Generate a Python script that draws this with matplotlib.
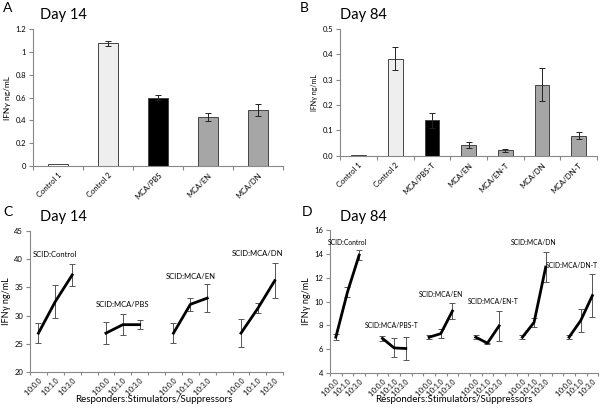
import numpy as np
import matplotlib.pyplot as plt

plt.rcParams['font.family'] = ['Lato', 'DejaVu Sans']

# panel A: day 14 bars
a_labels = ['Control 1', 'Control 2', 'MCA/PBS', 'MCA/EN', 'MCA/DN']
a_values = [0.02, 1.075, 0.60, 0.43, 0.49]
a_errors = [0.0, 0.02, 0.02, 0.035, 0.05]
a_colors = ['white', '#eeeeee', 'black', '#a6a6a6', '#a6a6a6']

# panel B: day 84 bars
b_labels = ['Control 1', 'Control 2', 'MCA/PBS-T', 'MCA/EN', 'MCA/EN-T', 'MCA/DN', 'MCA/DN-T']
b_values = [0.003, 0.382, 0.14, 0.043, 0.022, 0.28, 0.08]
b_errors = [0.0, 0.045, 0.03, 0.012, 0.005, 0.065, 0.015]
b_colors = ['white', '#eeeeee', 'black', '#a6a6a6', '#a6a6a6', '#a6a6a6', '#a6a6a6']

# panels C/D: ratio series
ratios = ['1:0:0.0', '1:0:1.0', '1:0:3.0']

c_groups = ['SCID:Control', 'SCID:MCA/PBS', 'SCID:MCA/EN', 'SCID:MCA/DN']
c_values = [[26.9, 32.5, 37.2], [26.9, 28.4, 28.4], [26.9, 32.0, 33.1], [26.9, 31.3, 36.2]]
c_errors = [[1.8, 3.0, 2.0], [1.9, 1.9, 0.8], [1.8, 1.1, 2.5], [2.5, 0.9, 3.1]]
c_label_pos = [(1, 40.9), (5, 31.9), (9, 37.0), (13, 41.0)]

d_groups = ['SCID:Control', 'SCID:MCA/PBS-T', 'SCID:MCA/EN', 'SCID:MCA/EN-T',
            'SCID:MCA/DN', 'SCID:MCA/DN-T']
d_values = [[7.0, 10.8, 13.9], [6.9, 6.1, 6.05], [7.0, 7.3, 9.2], [7.0, 6.5, 7.95],
            [7.0, 8.25, 12.9], [7.0, 8.4, 10.5]]
d_errors = [[0.25, 0.45, 0.4], [0.2, 0.8, 0.95], [0.15, 0.35, 0.65], [0.15, 0.05, 1.25],
            [0.15, 0.35, 1.3], [0.15, 1.0, 1.8]]
d_label_pos = [(1, 15.0), (4.8, 8.0), (9, 10.6), (13.5, 10.0), (17, 15.0), (20.2, 13.0)]

axis_grey = '#888888'
tick_fs = 5.5


def style_axes(ax):
    for s in ['top', 'right']:
        ax.spines[s].set_visible(False)
    for s in ['left', 'bottom']:
        ax.spines[s].set_color(axis_grey)
        ax.spines[s].set_linewidth(0.8)
    ax.tick_params(axis='y', labelsize=tick_fs, length=3, color=axis_grey, pad=2)


def bar_panel(ax, labels, values, errors, colors):
    x = np.arange(len(labels))
    ax.bar(x, values, width=0.4, color=colors, edgecolor='#444444', linewidth=0.7)
    ax.errorbar(x[1:], values[1:], yerr=errors[1:], fmt='none', ecolor='#222222',
                elinewidth=0.7, capsize=2, capthick=0.7)
    ax.set_xlim(-0.5, len(labels) - 0.5)
    ax.set_xticks(np.arange(len(labels) + 1) - 0.5)
    ax.set_xticklabels([])
    ax.set_xticks(x, minor=True)
    ax.set_xticklabels(labels, minor=True, rotation=45, ha='right', rotation_mode='anchor',
                       fontsize=tick_fs)
    ax.tick_params(axis='x', which='major', length=3, color=axis_grey)
    ax.tick_params(axis='x', which='minor', length=0, pad=4)
    style_axes(ax)


def line_panel(ax, groups, values, errors, label_pos, label_fs):
    n = len(groups) * 4 - 1
    for i in range(len(groups)):
        x = np.arange(3) + 4 * i
        ax.errorbar(x, values[i], yerr=errors[i], color='black', lw=2,
                    ecolor='#555555', elinewidth=0.7, capsize=2, capthick=0.7)
        ax.text(label_pos[i][0], label_pos[i][1], groups[i], fontsize=label_fs,
                ha='center', va='center')
    centers = [4 * i + k for i in range(len(groups)) for k in range(3)]
    ax.set_xlim(-0.5, n - 0.5)
    ax.set_xticks(np.arange(n + 1) - 0.5)
    ax.set_xticklabels([])
    ax.set_xticks(centers, minor=True)
    ax.set_xticklabels(ratios * len(groups), minor=True, rotation=45, ha='right',
                       rotation_mode='anchor', fontsize=5)
    ax.tick_params(axis='x', which='major', length=2.5, color=axis_grey)
    ax.tick_params(axis='x', which='minor', length=0, pad=3)
    style_axes(ax)


fig = plt.figure(figsize=(6, 4.08), dpi=100)

axA = fig.add_axes([0.055, 0.593, 0.417, 0.336])
bar_panel(axA, a_labels, a_values, a_errors, a_colors)
axA.set_ylim(0, 1.2)
axA.set_yticks([0, 0.2, 0.4, 0.6, 0.8, 1.0, 1.2])
axA.set_yticklabels(['0', '0.2', '0.4', '0.6', '0.8', '1', '1.2'])
axA.set_ylabel('IFNγ ng/mL', fontsize=6, labelpad=3)

axB = fig.add_axes([0.567, 0.618, 0.428, 0.311])
bar_panel(axB, b_labels, b_values, b_errors, b_colors)
axB.set_ylim(0, 0.5)
axB.set_yticks([0, 0.1, 0.2, 0.3, 0.4, 0.5])
axB.set_yticklabels(['0.0', '0.1', '0.2', '0.3', '0.4', '0.5'])
axB.set_ylabel('IFNγ ng/mL', fontsize=5, labelpad=3)

axC = fig.add_axes([0.05, 0.088, 0.422, 0.346])
line_panel(axC, c_groups, c_values, c_errors, c_label_pos, 5.5)
axC.set_ylim(20, 45)
axC.set_yticks(range(20, 46, 5))
axC.set_ylabel('IFNγ ng/mL', fontsize=6.5, labelpad=2)

axD = fig.add_axes([0.55, 0.086, 0.447, 0.35])
line_panel(axD, d_groups, d_values, d_errors, d_label_pos, 4.9)
axD.set_ylim(4, 16)
axD.set_yticks(range(4, 17, 2))
axD.set_ylabel('IFNγ ng/mL', fontsize=6.5, labelpad=2)

# titles, panel letters, shared x labels
fig.text(0.005, 0.995, 'A', fontsize=10, va='top')
fig.text(0.5, 0.995, 'B', fontsize=10, va='top')
fig.text(0.005, 0.495, 'C', fontsize=10, va='top')
fig.text(0.503, 0.495, 'D', fontsize=10, va='top')
fig.text(0.067, 0.963, 'Day 14', fontsize=10.5, va='center')
fig.text(0.567, 0.963, 'Day 84', fontsize=10.5, va='center')
fig.text(0.067, 0.468, 'Day 14', fontsize=10.5, va='center')
fig.text(0.567, 0.468, 'Day 84', fontsize=10.5, va='center')
fig.text(0.257, 0.015, 'Responders:Stimulators/Suppressors', fontsize=7, ha='center')
fig.text(0.757, 0.015, 'Responders:Stimulators/Suppressors', fontsize=7, ha='center')

fig.savefig('out.png', dpi=100)
